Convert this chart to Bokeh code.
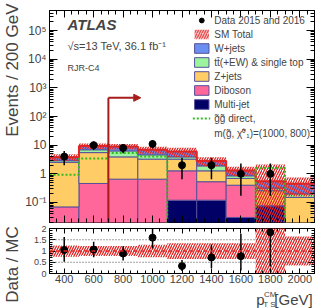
import numpy as np
from bokeh.plotting import figure
from bokeh.models import (ColumnDataSource, Legend, LegendItem, Label, Span, Arrow, NormalHead,
                          FixedTicker, CustomJSTickFormatter, LinearAxis, LogAxis, Range1d)
from bokeh.layouts import column, row
from bokeh.embed import file_html
from bokeh.resources import INLINE

# ---------------- data ----------------
bin_lo = [300, 500, 700, 900, 1100, 1300, 1500, 1700, 1900]
bin_hi = [500, 700, 900, 1100, 1300, 1500, 1700, 1900, 2100]
multijet = [0, 0, 0, 0, 0.12, 0.12, 0.03, 0.077, 0]
diboson = [0.07, 0.46, 0.65, 0.65, 1.15, 0.41, 0.37, 0, 0]
zjets = [2.45, 5.04, 3.25, 2.6, 1.98, 0.74, 0.29, 0.18, 0.15]
ttbar = [0.35, 1.4, 2.4, 1.35, 0.65, 0.63, 0.16, 0.06, 0.05]
wjets = [0.95, 2.5, 2.7, 2.3, 2.1, 0.9, 0.45, 0.23, 0.25]
unc_up = [0.25, 0.22, 0.22, 0.28, 0.35, 0.35, 0.35, 2.85, 0.64]
unc_dn = [0.25, 0.22, 0.22, 0.28, 0.35, 0.35, 0.35, 1.0, 0.64]
signal = [0.92, 3.4, 5.3, 4.0, 0, 0, 0, 1.6, 0]
data_x = [400, 600, 800, 1000, 1200, 1400, 1600, 1800]
data_n = [4, 10, 8, 11, 2, 2, 1, 1]
data_lo = [2.0, 6.8, 5.2, 7.7, 0.65, 0.65, 0.17, 0.17]
data_hi = [6.2, 13.3, 10.9, 14.4, 3.6, 3.6, 2.3, 2.3]
cut_value = 700
cut_arrow_y = 450
cut_arrow_to = 920
x_ticks = [400, 600, 800, 1000, 1200, 1400, 1600, 1800, 2000]
x_minor = list(range(300, 2101, 50))
y_ticks = [0.1, 1, 10, 100, 1000, 10000, 100000]
y_minor = [k * 10.0 ** e for e in range(-2, 6) for k in range(2, 10)]
ratio_ticks = [0, 0.5, 1, 1.5, 2]
ratio_minor = [i / 10 for i in range(0, 21)]

FONT = "Liberation Sans"
RED = "#e02424"
DARKRED = "#a81c1c"
LINE = "#56509a"
FLOOR = 1e-4
STRIP = 22  # width of the left strip holding the rotated y titles

comps = [
    ("Multi-jet", multijet, "#000066"),
    ("Diboson", diboson, "#ff6699"),
    ("Z+jets", zjets, "#ffcc66"),
    ("tt\u0304(+EW) & single top", ttbar, "#9cf59c"),
    ("W+jets", wjets, "#6b8ff0"),
]
total = np.sum([np.array(c[1], dtype=float) for c in comps], axis=0)


def tick_only_axes(fig, cls, side, major, minor, major_len, minor_len):
    """Label-free axes drawing only inward ticks (majors long, minors short)."""
    for pos, ln in ((major, major_len), (minor, minor_len)):
        ax = cls(ticker=FixedTicker(ticks=[], minor_ticks=pos), minor_tick_in=ln,
                 minor_tick_out=0, major_tick_in=0, major_tick_out=0,
                 axis_line_color=None, major_label_standoff=0)
        fig.add_layout(ax, side)


def text_strip(w, h):
    f = figure(width=w, height=h, output_backend="svg", toolbar_location=None, title=None,
               x_range=Range1d(0, w), y_range=Range1d(0, h),
               min_border_left=0, min_border_right=0, min_border_top=0, min_border_bottom=0,
               x_axis_location=None, y_axis_location=None)
    f.outline_line_color = None
    f.grid.visible = False
    return f


# ---------------- main figure ----------------
p = figure(width=332 - STRIP, height=225, output_backend="svg", toolbar_location=None, title=None,
           x_range=Range1d(300, 2100), y_range=Range1d(0.02, 5e5), y_axis_type="log",
           min_border_left=46 - STRIP, min_border_right=18, min_border_top=10, min_border_bottom=3,
           x_axis_location=None)
p.outline_line_color = "black"
p.grid.visible = False

log_fmt = CustomJSTickFormatter(code="""
const e = Math.round(Math.log10(tick));
const sup = {'-':'\u207b','0':'\u2070','1':'\u00b9','2':'\u00b2','3':'\u00b3','4':'\u2074','5':'\u2075','6':'\u2076','7':'\u2077','8':'\u2078','9':'\u2079'};
if (e == 0) return '1';
if (e == 1) return '10';
return '10' + String(e).split('').map(c => sup[c]).join('');
""")
p.yaxis.ticker = FixedTicker(ticks=y_ticks, minor_ticks=y_minor)
p.yaxis.formatter = log_fmt
p.yaxis.major_label_text_font = FONT
p.yaxis.major_label_text_font_size = "12px"
p.yaxis.major_label_standoff = 3
p.yaxis.major_tick_in = 8
p.yaxis.major_tick_out = 0
p.yaxis.minor_tick_in = 4
p.yaxis.minor_tick_out = 0

tick_only_axes(p, LinearAxis, "below", x_ticks, x_minor, 7, 4)
tick_only_axes(p, LinearAxis, "above", x_ticks, x_minor, 7, 4)
tick_only_axes(p, LogAxis, "right", y_ticks, y_minor, 8, 4)

# stacked backgrounds
renderers = {}
cum = np.zeros(len(bin_lo))
for name, vals, color in comps:
    vals = np.array(vals, dtype=float)
    src = ColumnDataSource(dict(left=bin_lo, right=bin_hi,
                                bottom=np.maximum(cum, FLOOR), top=np.maximum(cum + vals, FLOOR)))
    renderers[name] = p.quad(left="left", right="right", bottom="bottom", top="top", source=src,
                             fill_color=color, line_color=LINE, line_width=1)
    cum = cum + vals

# uncertainty band
band_src = ColumnDataSource(dict(left=bin_lo, right=bin_hi,
                                 bottom=np.maximum(total * (1 - np.array(unc_dn)), FLOOR),
                                 top=total * (1 + np.array(unc_up))))
r_band = p.quad(left="left", right="right", bottom="bottom", top="top", source=band_src,
                fill_alpha=0, line_color=None, hatch_pattern="/", hatch_color=RED,
                hatch_scale=5, hatch_weight=1.3)

edges = bin_lo + [bin_hi[-1]]
p.step(x=edges, y=list(total) + [total[-1]], mode="after", line_color=RED, line_width=2)

sig = np.maximum(np.array(signal, dtype=float), FLOOR)
r_sig = p.step(x=edges, y=list(sig) + [sig[-1]], mode="after", line_color="#33bb22",
               line_width=2, line_dash="2 2")
r_dummy = p.line(x=[300, 400], y=[1, 1], line_alpha=0)

# cut arrow
p.segment(x0=[cut_value], y0=[FLOOR], x1=[cut_value], y1=[cut_arrow_y], line_color=DARKRED, line_width=2)
p.add_layout(Arrow(end=NormalHead(size=7, fill_color=DARKRED, line_color=DARKRED),
                   x_start=cut_value, y_start=cut_arrow_y, x_end=cut_arrow_to, y_end=cut_arrow_y,
                   line_color=DARKRED, line_width=2))

# data
p.segment(x0=data_x, y0=data_lo, x1=data_x, y1=data_hi, line_color="black", line_width=1.5)
r_data = p.scatter(x=data_x, y=data_n, size=7, color="black")

legend = Legend(items=[
    LegendItem(label="Data 2015 and 2016", renderers=[r_data]),
    LegendItem(label="SM Total", renderers=[r_band]),
    LegendItem(label="W+jets", renderers=[renderers["W+jets"]]),
    LegendItem(label="tt\u0304(+EW) & single top", renderers=[renderers["tt\u0304(+EW) & single top"]]),
    LegendItem(label="Z+jets", renderers=[renderers["Z+jets"]]),
    LegendItem(label="Diboson", renderers=[renderers["Diboson"]]),
    LegendItem(label="Multi-jet", renderers=[renderers["Multi-jet"]]),
    LegendItem(label="g\u0303g\u0303 direct,", renderers=[r_sig]),
    LegendItem(label="m(g\u0303, \u03c7\u0303\u2070\u2081)=(1000, 800)", renderers=[r_dummy]),
], location="top_right")
legend.label_text_font = FONT
legend.label_text_font_size = "10px"
legend.glyph_width = 18
legend.glyph_height = 12
legend.spacing = 2
legend.label_standoff = 4
legend.label_height = 12
legend.padding = 1
legend.margin = 3
legend.background_fill_alpha = 0
legend.border_line_alpha = 0
p.add_layout(legend)

p.add_layout(Label(x=18, y=190, x_units="screen", y_units="screen", text="ATLAS",
                   text_font=FONT, text_font_size="15px", text_font_style="bold italic"))
p.add_layout(Label(x=18, y=171, x_units="screen", y_units="screen",
                   text="\u221as=13 TeV, 36.1 fb\u207b\u00b9", text_font=FONT, text_font_size="11px"))
p.add_layout(Label(x=18, y=150, x_units="screen", y_units="screen", text="RJR-C4",
                   text_font=FONT, text_font_size="9px"))

# ---------------- ratio figure ----------------
r = figure(width=332 - STRIP, height=62, output_backend="svg", toolbar_location=None, title=None,
           x_range=p.x_range, y_range=Range1d(0, 2),
           min_border_left=46 - STRIP, min_border_right=18, min_border_top=3, min_border_bottom=14)
r.outline_line_color = "black"
r.grid.visible = False

r.xaxis.ticker = FixedTicker(ticks=x_ticks, minor_ticks=x_minor)
r.xaxis.major_label_text_font = FONT
r.xaxis.major_label_text_font_size = "11px"
r.xaxis.major_label_standoff = 1
r.xaxis.major_tick_in = 5
r.xaxis.major_tick_out = 0
r.xaxis.minor_tick_in = 3
r.xaxis.minor_tick_out = 0

r.yaxis.ticker = FixedTicker(ticks=ratio_ticks, minor_ticks=ratio_minor)
r.yaxis.formatter = CustomJSTickFormatter(code="return tick.toString();")
r.yaxis.major_label_text_font = FONT
r.yaxis.major_label_text_font_size = "9px"
r.yaxis.major_label_standoff = 3
r.yaxis.major_tick_in = 6
r.yaxis.major_tick_out = 0
r.yaxis.minor_tick_in = 3
r.yaxis.minor_tick_out = 0
tick_only_axes(r, LinearAxis, "above", x_ticks, x_minor, 5, 3)
tick_only_axes(r, LinearAxis, "right", ratio_ticks, ratio_minor, 6, 3)

rb_src = ColumnDataSource(dict(left=bin_lo, right=bin_hi,
                               bottom=1 - np.array(unc_dn), top=1 + np.array(unc_up)))
r.quad(left="left", right="right", bottom="bottom", top="top", source=rb_src,
       fill_alpha=0, line_color=None, hatch_pattern="/", hatch_color=RED,
       hatch_scale=5, hatch_weight=1.3)
for lvl in (0.5, 1.5):
    r.add_layout(Span(location=lvl, dimension="width", line_color="#444444",
                      line_dash="1 2", line_width=1))
r.add_layout(Span(location=1, dimension="width", line_color=RED, line_dash="4 3", line_width=1.5))

tot_d = total[:len(data_x)]
ratio = np.array(data_n) / tot_d
r.segment(x0=data_x, y0=np.array(data_lo) / tot_d, x1=data_x, y1=np.array(data_hi) / tot_d,
          line_color="black", line_width=1.5)
r.scatter(x=data_x, y=ratio, size=7, color="black")

# ---------------- x-axis title strip (below the ratio panel) ----------------
t = text_strip(332 - STRIP, 21)
t.add_layout(Label(x=264 - STRIP, y=9, text="p", text_baseline="alphabetic",
                   text_font=FONT, text_font_size="15px"))
t.add_layout(Label(x=273 - STRIP, y=14, text="CM", text_baseline="alphabetic",
                   text_font=FONT, text_font_size="8px"))
t.add_layout(Label(x=272 - STRIP, y=4, text="T S", text_baseline="alphabetic",
                   text_font=FONT, text_font_size="8px"))
t.add_layout(Label(x=285 - STRIP, y=9, text="[GeV]", text_baseline="alphabetic",
                   text_font=FONT, text_font_size="15px"))

# ---------------- y-axis title strip (left) ----------------
s = text_strip(STRIP, 308)
s.add_layout(Label(x=21, y=305, text="Events / 200 GeV", angle=np.pi / 2, text_align="right",
                   text_baseline="bottom", text_font=FONT, text_font_size="17px"))
s.add_layout(Label(x=21, y=44, text="Data / MC", angle=np.pi / 2, text_align="center",
                   text_baseline="bottom", text_font=FONT, text_font_size="17px"))

layout = row(s, column(p, r, t, spacing=0), spacing=0)
open("out.html", "w").write(file_html(layout, INLINE))
